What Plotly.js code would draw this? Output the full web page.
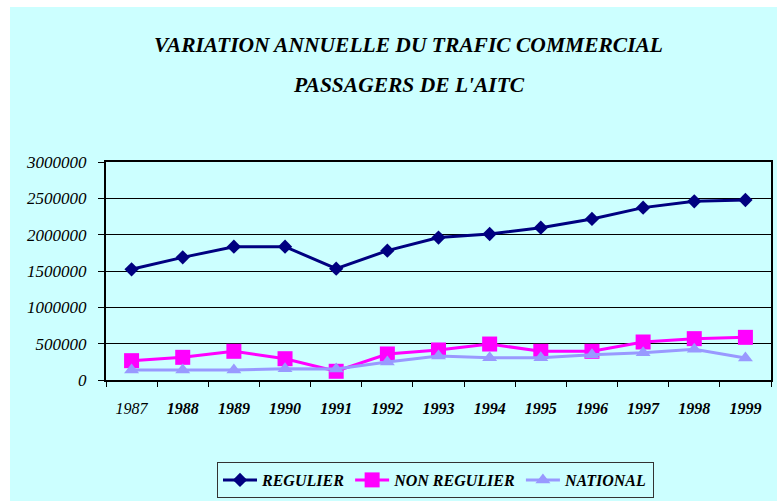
<!DOCTYPE html>
<html>
<head>
<meta charset="utf-8">
<script src="https://cdn.plot.ly/plotly-3.0.1.min.js"></script>
<style>
  html, body { margin: 0; padding: 0; background: #ffffff; }
  #chart { position: absolute; left: 10px; top: 7px; width: 767px; height: 494px; }
</style>
</head>
<body>
<div id="chart"></div>
<script>
const years = ["1987","1988","1989","1990","1991","1992","1993","1994","1995","1996","1997","1998","1999"];
const yearLabels = ["1987","<b>1988</b>","<b>1989</b>","<b>1990</b>","<b>1991</b>","<b>1992</b>","<b>1993</b>","<b>1994</b>","<b>1995</b>","<b>1996</b>","<b>1997</b>","<b>1998</b>","<b>1999</b>"];
const regulier = [1523000, 1688000, 1835000, 1835000, 1532000, 1780000, 1960000, 2009000, 2096000, 2216000, 2372000, 2459000, 2477000];
const nonRegulier = [266000, 312000, 395000, 293000, 120000, 358000, 413000, 495000, 395000, 395000, 523000, 569000, 587000];
const national = [138000, 138000, 138000, 156000, 150000, 248000, 330000, 307000, 307000, 348000, 376000, 422000, 303000];
const yTicks = [0, 500000, 1000000, 1500000, 2000000, 2500000, 3000000];

const serif = "Liberation Serif";

const traces = [
  { x: years, y: regulier, name: "REGULIER", type: "scatter", mode: "lines+markers",
    line: { color: "#000080", width: 3 }, marker: { symbol: "diamond", size: 11, color: "#000080" } },
  { x: years, y: nonRegulier, name: "NON REGULIER", type: "scatter", mode: "lines+markers",
    line: { color: "#FF00FF", width: 3 }, marker: { symbol: "square", size: 15, color: "#FF00FF" } },
  { x: years, y: national, name: "NATIONAL", type: "scatter", mode: "lines+markers",
    line: { color: "#9999FF", width: 3 }, marker: { symbol: "triangle-up", size: 13, color: "#9999FF" } }
];

const layout = {
  width: 767, height: 494,
  paper_bgcolor: "#CCFFFF",
  plot_bgcolor: "#CCFFFF",
  margin: { l: 96, r: 6, t: 155, b: 121, pad: 0 },
  showlegend: true,
  font: { family: serif, color: "#000000" },
  title: {
    text: "VARIATION ANNUELLE DU TRAFIC COMMERCIAL",
    font: { family: serif, size: 21.5, color: "#000000", weight: "bold", style: "italic" },
    xref: "container", x: 0.5196, xanchor: "center",
    yref: "container", y: 1 - 37 / 494, yanchor: "middle"
  },
  annotations: [{
    text: "PASSAGERS DE L'AITC",
    font: { family: serif, size: 21.5, color: "#000000", weight: "bold", style: "italic" },
    xref: "paper", x: (408.5 - 106) / 665, xanchor: "center",
    yref: "paper", y: 1 + (162 - 85) / 218, yanchor: "middle",
    showarrow: false
  }],
  xaxis: {
    type: "category",
    tickmode: "array", tickvals: years, ticktext: yearLabels,
    tickson: "boundaries",
    ticks: "outside", ticklen: 5, tickcolor: "#000000", tickwidth: 1,
    showline: true, linecolor: "#000000", linewidth: 2, mirror: true,
    showgrid: false,
    tickfont: { family: serif, size: 16, color: "#000000", style: "italic" },
    ticklabelstandoff: 13,
    range: [-0.5, 12.5],
    fixedrange: true
  },
  yaxis: {
    range: [0, 3000000],
    tickmode: "array", tickvals: yTicks,
    tickformat: "d",
    ticks: "outside", ticklen: 6, tickcolor: "#000000", tickwidth: 1,
    showline: true, linecolor: "#000000", linewidth: 2, mirror: true,
    showgrid: true, gridcolor: "#000000", gridwidth: 1,
    zeroline: false,
    tickfont: { family: serif, size: 17, color: "#000000", style: "italic" },
    ticklabelstandoff: 8,
    fixedrange: true
  },
  legend: {
    orientation: "h",
    xref: "container", yref: "container",
    x: (217 - 10) / 767, xanchor: "left",
    y: 1 - (462 - 7) / 494, yanchor: "top",
    bgcolor: "rgba(0,0,0,0)",
    bordercolor: "#333333", borderwidth: 1,
    itemwidth: 34,
    font: { family: serif, size: 16, color: "#000000", weight: "bold", style: "italic" },
    itemclick: false, itemdoubleclick: false
  }
};

Plotly.newPlot("chart", traces, layout, { displayModeBar: false, staticPlot: true });
</script>
</body>
</html>
